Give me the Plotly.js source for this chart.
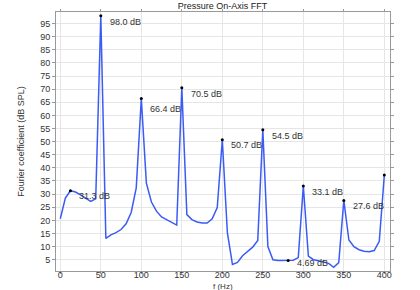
<!DOCTYPE html>
<html>
<head>
<meta charset="utf-8">
<script src="https://cdn.plot.ly/plotly-3.0.1.min.js"></script>
<style>html,body{margin:0;padding:0;background:#fff}#chart{width:420px;height:290px}</style>
</head>
<body>
<div id="chart"></div>
<script>
var freq = [0,6.25,12.5,18.75,25,31.25,37.5,43.75,50,56.25,62.5,68.75,75,81.25,87.5,93.75,
  100,106.25,112.5,118.75,125,131.25,137.5,143.75,150,156.25,162.5,168.75,175,181.25,187.5,193.75,
  200,206.25,212.5,218.75,225,231.25,237.5,243.75,250,256.25,262.5,268.75,275,281.25,287.5,293.75,
  300,306.25,312.5,318.75,325,331.25,337.5,343.75,350,356.25,362.5,368.75,375,381.25,387.5,393.75,400];
var level = [20.6,28.5,31.3,30.8,29.7,28.3,27.2,28.2,98.0,13.1,14.5,15.3,16.5,18.7,23.0,32.4,
  66.4,34.2,27.0,23.5,21.3,20.3,19.3,18.2,70.5,22.2,20.3,19.4,19.0,19.0,20.6,24.9,
  50.7,15.3,3.2,4.0,6.5,8.3,9.8,12.3,54.5,10.0,5.0,4.7,4.7,4.69,4.8,5.8,
  33.1,6.4,5.0,4.6,4.2,3.6,2.1,3.9,27.6,12.5,10.0,8.8,8.2,8.0,8.5,12.0,37.3];
var peakF = [12.5,50,100,150,200,250,281.25,300,350,400];
var peakV = [31.3,98.0,66.4,70.5,50.7,54.5,4.69,33.1,27.6,37.3];
var peakLabel = ['31.3 dB','98.0 dB','66.4 dB','70.5 dB','50.7 dB','54.5 dB','4.69 dB','33.1 dB','27.6 dB',''];
var xTicks = [0,50,100,150,200,250,300,350,400];
var yTicks = [5,10,15,20,25,30,35,40,45,50,55,60,65,70,75,80,85,90,95];

var FONT = 'Liberation Sans, Arial, sans-serif';
var traces = [
  {x: freq, y: level, type: 'scatter', mode: 'lines', line: {color: '#3a5cf5', width: 1.5}, hoverinfo: 'skip'},
  {x: peakF, y: peakV, type: 'scatter', mode: 'markers', marker: {color: '#000', size: 3}, hoverinfo: 'skip'}
];
var yShift = [-5,-6,-10,-6,-5,-6,-2,-6,-6,-6];
var annotations = [];
for (var i = 0; i < peakF.length; i++) {
  if (!peakLabel[i]) continue;
  annotations.push({x: peakF[i], y: peakV[i], xref: 'x', yref: 'y', text: peakLabel[i], showarrow: false,
    xanchor: 'left', yanchor: 'middle', xshift: 7, yshift: yShift[i],
    font: {family: FONT, size: 9, color: '#333'}});
}
annotations.push({x: 0.5, y: 0, xref: 'paper', yref: 'paper', text: 'f (Hz)', showarrow: false,
  xanchor: 'center', yanchor: 'top', yshift: -9, font: {family: FONT, size: 8, color: '#333'}});
var layout = {
  width: 420, height: 290,
  margin: {l: 56, r: 30, t: 12, b: 19},
  paper_bgcolor: '#fff', plot_bgcolor: '#fff',
  showlegend: false,
  title: {text: 'Pressure On-Axis FFT', font: {family: FONT, size: 9, color: '#222'}, x: 0.53, xanchor: 'center', y: 0.99, yanchor: 'top'},
  xaxis: {range: [-5.3, 407], tickvals: xTicks, ticktext: xTicks.map(String), showgrid: true, gridcolor: '#e6e6e6',
    showline: true, linecolor: '#999', mirror: 'ticks', ticks: 'outside', ticklen: 2, tickcolor: '#999',
    zeroline: false, tickfont: {family: FONT, size: 9, color: '#333'}, ticklabelstandoff: -7},
  yaxis: {range: [0.7, 99.4], tickvals: yTicks, ticktext: yTicks.map(String), showgrid: true, gridcolor: '#e6e6e6',
    showline: true, linecolor: '#999', mirror: 'ticks', ticks: 'outside', ticklen: 3, tickcolor: '#999',
    zeroline: false, tickfont: {family: FONT, size: 9, color: '#333'},
    title: {text: 'Fourier coefficient (dB SPL)', font: {family: FONT, size: 9, color: '#333'}, standoff: 14}},
  annotations: annotations
};
Plotly.newPlot('chart', traces, layout, {staticPlot: true, displayModeBar: false});
</script>
</body>
</html>
